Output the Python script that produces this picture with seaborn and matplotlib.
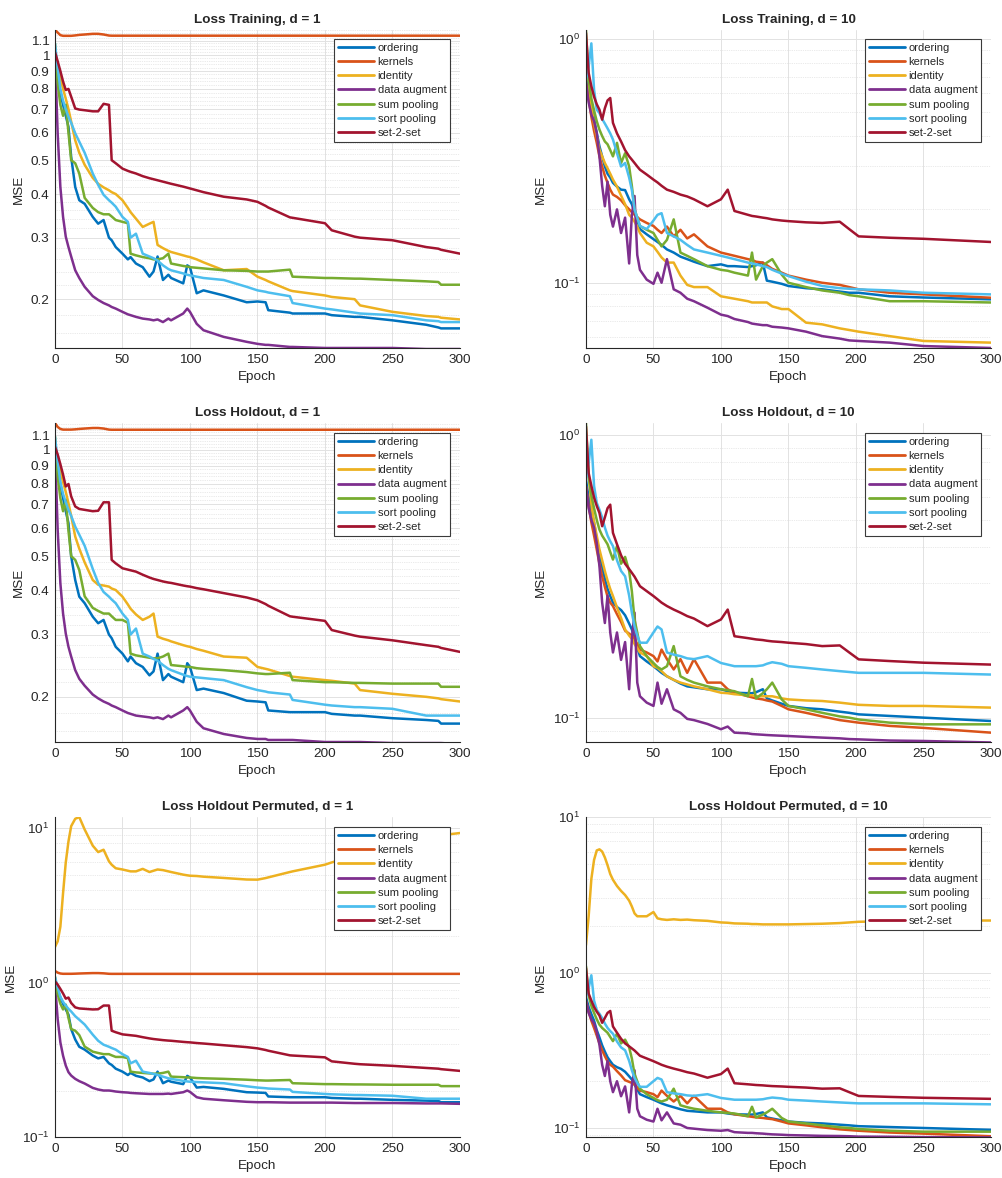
"""
Loss curves (MSE vs. epoch) for seven set-encoding methods,
training / holdout / permuted-holdout, d = 1 and d = 10.
"""

import numpy as np
import pandas as pd
import matplotlib
matplotlib.use("Agg")
import matplotlib.pyplot as plt
from matplotlib.lines import Line2D
from matplotlib.ticker import FixedLocator, FixedFormatter, NullFormatter, LogLocator
import seaborn as sns


# ──────────────────────────────────────────────
# Data
# ──────────────────────────────────────────────

METHODS = ["ordering", "kernels", "identity", "data augment",
           "sum pooling", "sort pooling", "set-2-set"]
COLORS = ["#0072BD", "#D95319", "#EDB120", "#7E2F8E",
          "#77AC30", "#4DBEEE", "#A2142F"]

EPOCHS_D1 = [0, 2, 4, 6, 8, 10, 12, 15, 18, 22, 28, 32, 36, 40, 42, 45, 50, 54, 56, 60,
             65, 70, 73, 76, 80, 84, 86, 95, 98, 100, 105, 110, 125, 142, 150, 156, 158,
             174, 176, 200, 205, 222, 226, 250, 275, 284, 286, 300]

EPOCHS_D10 = [0, 2, 4, 6, 8, 10, 12, 14, 16, 18, 20, 23, 26, 29, 32, 34, 36, 38, 40, 45,
              50, 53, 56, 60, 65, 70, 75, 80, 90, 100, 105, 110, 120, 123, 126, 131, 134,
              138, 145, 150, 163, 175, 188, 195, 202, 225, 250, 300]

# --- Loss Training, d = 1
train_d1_ordering = [1.0, 0.88, 0.78, 0.72, 0.67, 0.623, 0.511, 0.419, 0.384, 0.375, 0.344, 0.329,
                     0.337, 0.30, 0.295, 0.282, 0.27, 0.26, 0.264, 0.253, 0.247, 0.232, 0.24, 0.265,
                     0.227, 0.235, 0.23, 0.222, 0.25, 0.247, 0.208, 0.212, 0.205, 0.196, 0.197, 0.196,
                     0.186, 0.183, 0.182, 0.182, 0.18, 0.178, 0.178, 0.174, 0.169, 0.166, 0.165, 0.165]
train_d1_kernels = [1.18, 1.16, 1.14, 1.135, 1.135, 1.135, 1.135, 1.138, 1.142, 1.145, 1.15, 1.15,
                    1.145, 1.137, 1.136, 1.136, 1.136, 1.136, 1.136, 1.136, 1.136, 1.136, 1.136, 1.136,
                    1.136, 1.136, 1.136, 1.136, 1.136, 1.136, 1.136, 1.136, 1.136, 1.136, 1.136, 1.136,
                    1.136, 1.136, 1.136, 1.136, 1.136, 1.136, 1.136, 1.136, 1.136, 1.136, 1.136, 1.136]
train_d1_identity = [0.99, 0.93, 0.86, 0.80, 0.75, 0.70, 0.645, 0.57, 0.525, 0.485, 0.445, 0.428,
                     0.418, 0.41, 0.405, 0.40, 0.384, 0.365, 0.355, 0.34, 0.322, 0.329, 0.333, 0.286,
                     0.28, 0.275, 0.273, 0.267, 0.265, 0.264, 0.26, 0.255, 0.242, 0.244, 0.232, 0.227,
                     0.225, 0.212, 0.211, 0.205, 0.203, 0.20, 0.192, 0.184, 0.179, 0.178, 0.177, 0.175]
train_d1_augment = [1.01, 0.596, 0.419, 0.344, 0.302, 0.282, 0.265, 0.242, 0.23, 0.217, 0.204, 0.199,
                    0.195, 0.192, 0.19, 0.188, 0.184, 0.181, 0.18, 0.178, 0.176, 0.175, 0.174, 0.175,
                    0.172, 0.176, 0.174, 0.182, 0.188, 0.184, 0.17, 0.163, 0.156, 0.151, 0.149, 0.148,
                    0.148, 0.146, 0.146, 0.145, 0.145, 0.145, 0.145, 0.145, 0.144, 0.144, 0.144, 0.144]
train_d1_sum = [1.08, 0.83, 0.72, 0.67, 0.72, 0.60, 0.50, 0.49, 0.458, 0.39, 0.365, 0.355,
                0.35, 0.35, 0.345, 0.337, 0.333, 0.33, 0.27, 0.267, 0.264, 0.262, 0.26, 0.26,
                0.262, 0.27, 0.253, 0.249, 0.248, 0.247, 0.246, 0.245, 0.242, 0.241, 0.24, 0.24,
                0.24, 0.243, 0.232, 0.23, 0.23, 0.229, 0.229, 0.227, 0.225, 0.224, 0.22, 0.22]
train_d1_sort = [1.08, 0.92, 0.80, 0.74, 0.70, 0.666, 0.64, 0.597, 0.565, 0.525, 0.458, 0.425,
                 0.398, 0.384, 0.378, 0.368, 0.344, 0.333, 0.30, 0.308, 0.27, 0.265, 0.262, 0.258,
                 0.25, 0.244, 0.242, 0.237, 0.235, 0.234, 0.232, 0.23, 0.227, 0.217, 0.212, 0.21,
                 0.209, 0.204, 0.195, 0.188, 0.187, 0.183, 0.182, 0.18, 0.174, 0.173, 0.172, 0.172]
train_d1_set2set = [1.02, 0.96, 0.90, 0.84, 0.794, 0.80, 0.76, 0.703, 0.698, 0.695, 0.69, 0.69,
                    0.725, 0.72, 0.50, 0.49, 0.473, 0.466, 0.463, 0.458, 0.45, 0.444, 0.441, 0.438,
                    0.434, 0.43, 0.428, 0.42, 0.417, 0.415, 0.41, 0.405, 0.393, 0.386, 0.38, 0.37,
                    0.366, 0.343, 0.342, 0.33, 0.315, 0.302, 0.30, 0.295, 0.282, 0.279, 0.277, 0.27]

# --- Loss Holdout, d = 1
holdout_d1_ordering = [1.02, 0.90, 0.80, 0.73, 0.67, 0.62, 0.50, 0.428, 0.384, 0.368, 0.337, 0.323,
                       0.33, 0.30, 0.293, 0.277, 0.265, 0.252, 0.26, 0.249, 0.243, 0.23, 0.236, 0.265,
                       0.223, 0.232, 0.228, 0.22, 0.249, 0.243, 0.209, 0.211, 0.205, 0.195, 0.194, 0.193,
                       0.183, 0.181, 0.181, 0.181, 0.179, 0.177, 0.177, 0.174, 0.172, 0.171, 0.168, 0.168]
holdout_d1_kernels = [1.19, 1.16, 1.145, 1.14, 1.14, 1.14, 1.14, 1.142, 1.145, 1.148, 1.152, 1.152,
                      1.148, 1.14, 1.139, 1.139, 1.139, 1.139, 1.139, 1.139, 1.139, 1.139, 1.139, 1.139,
                      1.139, 1.139, 1.139, 1.139, 1.139, 1.139, 1.139, 1.139, 1.139, 1.139, 1.139, 1.139,
                      1.139, 1.139, 1.139, 1.139, 1.139, 1.139, 1.139, 1.139, 1.139, 1.139, 1.139, 1.139]
holdout_d1_identity = [1.0, 0.93, 0.87, 0.81, 0.76, 0.706, 0.65, 0.568, 0.525, 0.48, 0.428, 0.415,
                       0.413, 0.41, 0.405, 0.401, 0.384, 0.365, 0.355, 0.342, 0.33, 0.337, 0.344, 0.296,
                       0.292, 0.289, 0.287, 0.28, 0.278, 0.277, 0.273, 0.27, 0.26, 0.258, 0.243, 0.24,
                       0.239, 0.229, 0.228, 0.223, 0.222, 0.218, 0.209, 0.204, 0.20, 0.198, 0.197, 0.194]
holdout_d1_augment = [1.02, 0.593, 0.419, 0.344, 0.302, 0.277, 0.26, 0.238, 0.225, 0.215, 0.203, 0.198,
                      0.194, 0.191, 0.189, 0.187, 0.183, 0.18, 0.179, 0.177, 0.176, 0.175, 0.174, 0.175,
                      0.173, 0.177, 0.175, 0.183, 0.187, 0.183, 0.17, 0.163, 0.157, 0.153, 0.152, 0.152,
                      0.151, 0.151, 0.151, 0.149, 0.149, 0.149, 0.149, 0.148, 0.148, 0.148, 0.148, 0.147]
holdout_d1_sum = [1.09, 0.84, 0.73, 0.67, 0.72, 0.59, 0.50, 0.488, 0.457, 0.385, 0.357, 0.35,
                  0.344, 0.344, 0.338, 0.33, 0.33, 0.324, 0.265, 0.262, 0.26, 0.258, 0.257, 0.257,
                  0.26, 0.265, 0.246, 0.244, 0.243, 0.243, 0.241, 0.24, 0.238, 0.235, 0.233, 0.232,
                  0.232, 0.234, 0.223, 0.22, 0.22, 0.219, 0.219, 0.218, 0.218, 0.218, 0.2135, 0.2135]
holdout_d1_sort = [1.09, 0.93, 0.81, 0.75, 0.71, 0.676, 0.65, 0.606, 0.575, 0.535, 0.46, 0.42,
                   0.396, 0.384, 0.377, 0.368, 0.344, 0.33, 0.30, 0.312, 0.265, 0.26, 0.256, 0.253,
                   0.246, 0.24, 0.238, 0.231, 0.229, 0.228, 0.227, 0.226, 0.223, 0.213, 0.209, 0.207,
                   0.206, 0.203, 0.196, 0.19, 0.189, 0.187, 0.187, 0.185, 0.177, 0.177, 0.177, 0.177]
holdout_d1_set2set = [1.02, 0.97, 0.91, 0.85, 0.787, 0.80, 0.738, 0.691, 0.68, 0.676, 0.67, 0.672,
                      0.71, 0.71, 0.488, 0.477, 0.462, 0.458, 0.456, 0.452, 0.443, 0.435, 0.431, 0.428,
                      0.424, 0.421, 0.42, 0.413, 0.411, 0.41, 0.406, 0.403, 0.393, 0.382, 0.375, 0.366,
                      0.362, 0.338, 0.337, 0.328, 0.309, 0.298, 0.296, 0.289, 0.28, 0.277, 0.275, 0.268]

# --- Loss Holdout Permuted, d = 1 (other methods match the holdout curves)
perm_d1_identity = [1.7, 1.85, 2.3, 3.8, 6.0, 8.2, 10.3, 11.5, 11.8, 9.8, 7.7, 7.0,
                    7.25, 6.1, 5.8, 5.5, 5.4, 5.3, 5.25, 5.25, 5.45, 5.2, 5.3, 5.4,
                    5.35, 5.25, 5.2, 5.0, 4.95, 4.92, 4.9, 4.85, 4.76, 4.65, 4.64, 4.75,
                    4.8, 5.2, 5.25, 5.8, 6.0, 6.6, 6.9, 7.8, 8.6, 8.9, 9.0, 9.3]
perm_d1_augment = [1.0, 0.58, 0.41, 0.336, 0.29, 0.263, 0.25, 0.238, 0.23, 0.222, 0.208, 0.203,
                   0.2, 0.2, 0.199, 0.197, 0.195, 0.194, 0.193, 0.192, 0.191, 0.19, 0.19, 0.19,
                   0.19, 0.191, 0.19, 0.195, 0.2, 0.196, 0.181, 0.177, 0.173, 0.169, 0.168, 0.168,
                   0.168, 0.167, 0.167, 0.167, 0.167, 0.166, 0.166, 0.166, 0.165, 0.165, 0.165, 0.164]

# --- Loss Training, d = 10
train_d10_ordering = [0.70, 0.60, 0.53, 0.47, 0.412, 0.363, 0.33, 0.30, 0.28, 0.27, 0.257, 0.248,
                      0.241, 0.24, 0.22, 0.21, 0.195, 0.18, 0.166, 0.158, 0.151, 0.147, 0.143, 0.137,
                      0.133, 0.128, 0.125, 0.122, 0.117, 0.119, 0.117, 0.117, 0.116, 0.117, 0.118, 0.121,
                      0.102, 0.101, 0.099, 0.097, 0.095, 0.094, 0.092, 0.091, 0.091, 0.088, 0.087, 0.0855]
train_d10_kernels = [0.66, 0.57, 0.48, 0.42, 0.375, 0.33, 0.30, 0.275, 0.257, 0.241, 0.23, 0.225,
                     0.218, 0.208, 0.2, 0.195, 0.19, 0.186, 0.182, 0.176, 0.171, 0.165, 0.16, 0.17,
                     0.155, 0.165, 0.152, 0.158, 0.141, 0.133, 0.131, 0.129, 0.125, 0.124, 0.122, 0.121,
                     0.118, 0.114, 0.11, 0.107, 0.103, 0.1, 0.098, 0.096, 0.094, 0.091, 0.0896, 0.0868]
train_d10_identity = [0.90, 0.68, 0.53, 0.45, 0.40, 0.352, 0.33, 0.31, 0.295, 0.28, 0.265, 0.248,
                      0.228, 0.21, 0.19, 0.185, 0.178, 0.17, 0.16, 0.146, 0.141, 0.134, 0.127, 0.121,
                      0.121, 0.107, 0.098, 0.096, 0.096, 0.088, 0.087, 0.086, 0.084, 0.083, 0.083, 0.083,
                      0.083, 0.08, 0.078, 0.078, 0.0686, 0.0675, 0.065, 0.064, 0.063, 0.0604, 0.0577, 0.0568]
train_d10_augment = [0.66, 0.55, 0.49, 0.46, 0.41, 0.33, 0.25, 0.206, 0.26, 0.19, 0.17, 0.2,
                     0.16, 0.185, 0.12, 0.19, 0.227, 0.13, 0.113, 0.103, 0.099, 0.11, 0.1, 0.125,
                     0.094, 0.091, 0.086, 0.084, 0.079, 0.074, 0.073, 0.071, 0.069, 0.068, 0.0676, 0.067,
                     0.067, 0.066, 0.0655, 0.065, 0.063, 0.0604, 0.059, 0.058, 0.0577, 0.0568, 0.055, 0.054]
train_d10_sum = [1.09, 0.68, 0.57, 0.51, 0.46, 0.425, 0.40, 0.38, 0.37, 0.35, 0.33, 0.375,
                 0.31, 0.34, 0.3, 0.25, 0.2, 0.185, 0.171, 0.165, 0.16, 0.15, 0.141, 0.15,
                 0.182, 0.133, 0.129, 0.125, 0.117, 0.113, 0.112, 0.11, 0.107, 0.133, 0.103, 0.117,
                 0.121, 0.125, 0.108, 0.1, 0.096, 0.093, 0.091, 0.089, 0.088, 0.084, 0.084, 0.083]
train_d10_sort = [0.68, 0.77, 0.96, 0.62, 0.513, 0.497, 0.47, 0.45, 0.43, 0.41, 0.387, 0.34,
                  0.3, 0.31, 0.27, 0.24, 0.2, 0.185, 0.171, 0.166, 0.18, 0.19, 0.193, 0.16,
                  0.155, 0.15, 0.143, 0.137, 0.133, 0.129, 0.127, 0.125, 0.121, 0.12, 0.119, 0.117,
                  0.116, 0.113, 0.109, 0.1065, 0.101, 0.097, 0.095, 0.0945, 0.094, 0.093, 0.091, 0.0896]
train_d10_set2set = [1.06, 0.726, 0.64, 0.58, 0.54, 0.513, 0.467, 0.52, 0.56, 0.573, 0.453, 0.41,
                     0.38, 0.35, 0.33, 0.32, 0.31, 0.30, 0.291, 0.278, 0.265, 0.258, 0.25, 0.241,
                     0.236, 0.23, 0.226, 0.22, 0.206, 0.22, 0.241, 0.197, 0.19, 0.188, 0.187, 0.185,
                     0.184, 0.182, 0.18, 0.179, 0.177, 0.176, 0.178, 0.166, 0.155, 0.153, 0.1515, 0.147]

# --- Loss Holdout, d = 10
holdout_d10_ordering = [0.694, 0.60, 0.54, 0.49, 0.426, 0.382, 0.34, 0.31, 0.285, 0.269, 0.255, 0.246,
                        0.24, 0.23, 0.215, 0.205, 0.19, 0.177, 0.165, 0.158, 0.152, 0.148, 0.144, 0.14,
                        0.136, 0.132, 0.129, 0.128, 0.126, 0.126, 0.124, 0.1225, 0.122, 0.122, 0.123, 0.126,
                        0.117, 0.115, 0.112, 0.11, 0.108, 0.107, 0.105, 0.104, 0.1027, 0.1014, 0.1, 0.0973]
holdout_d10_kernels = [0.657, 0.56, 0.49, 0.44, 0.393, 0.35, 0.316, 0.29, 0.268, 0.255, 0.248, 0.232,
                       0.218, 0.203, 0.198, 0.195, 0.19, 0.182, 0.174, 0.17, 0.165, 0.158, 0.174, 0.161,
                       0.148, 0.161, 0.144, 0.161, 0.133, 0.133, 0.126, 0.1225, 0.119, 0.118, 0.117, 0.116,
                       0.115, 0.114, 0.11, 0.107, 0.104, 0.101, 0.098, 0.097, 0.096, 0.0935, 0.092, 0.0885]
holdout_d10_identity = [0.934, 0.72, 0.57, 0.49, 0.44, 0.393, 0.36, 0.33, 0.305, 0.285, 0.269, 0.245,
                        0.225, 0.205, 0.195, 0.19, 0.182, 0.176, 0.17, 0.165, 0.152, 0.15, 0.146, 0.14,
                        0.136, 0.133, 0.131, 0.129, 0.126, 0.1225, 0.122, 0.121, 0.12, 0.12, 0.119, 0.119,
                        0.119, 0.119, 0.117, 0.116, 0.115, 0.1145, 0.113, 0.112, 0.111, 0.11, 0.11, 0.1085]
holdout_d10_augment = [0.657, 0.55, 0.50, 0.47, 0.415, 0.343, 0.255, 0.216, 0.27, 0.2, 0.17, 0.2,
                       0.16, 0.185, 0.126, 0.19, 0.235, 0.133, 0.119, 0.113, 0.11, 0.133, 0.112, 0.126,
                       0.107, 0.104, 0.099, 0.098, 0.095, 0.091, 0.093, 0.0885, 0.088, 0.0875, 0.0873, 0.087,
                       0.0868, 0.0866, 0.0863, 0.0861, 0.0855, 0.085, 0.0845, 0.084, 0.0838, 0.083, 0.0827, 0.0817]
holdout_d10_sum = [1.1, 0.713, 0.61, 0.55, 0.50, 0.462, 0.44, 0.425, 0.41, 0.385, 0.362, 0.404,
                   0.35, 0.37, 0.33, 0.28, 0.222, 0.2, 0.179, 0.165, 0.156, 0.151, 0.148, 0.152,
                   0.179, 0.14, 0.136, 0.133, 0.129, 0.126, 0.125, 0.124, 0.119, 0.137, 0.117, 0.122,
                   0.126, 0.133, 0.116, 0.11, 0.107, 0.104, 0.101, 0.1, 0.0985, 0.096, 0.0947, 0.0947]
holdout_d10_sort = [0.694, 0.794, 0.96, 0.66, 0.574, 0.543, 0.51, 0.47, 0.44, 0.42, 0.404, 0.36,
                    0.33, 0.316, 0.27, 0.235, 0.21, 0.195, 0.184, 0.184, 0.2, 0.21, 0.205, 0.17,
                    0.167, 0.165, 0.162, 0.161, 0.165, 0.156, 0.154, 0.152, 0.152, 0.152, 0.152, 0.153,
                    0.155, 0.157, 0.155, 0.152, 0.15, 0.148, 0.146, 0.145, 0.144, 0.144, 0.144, 0.142]
holdout_d10_set2set = [1.07, 0.732, 0.66, 0.60, 0.56, 0.529, 0.475, 0.51, 0.55, 0.566, 0.45, 0.41,
                       0.375, 0.35, 0.335, 0.325, 0.315, 0.303, 0.2915, 0.28, 0.269, 0.262, 0.255, 0.248,
                       0.241, 0.235, 0.2285, 0.224, 0.2106, 0.2223, 0.241, 0.194, 0.191, 0.19, 0.189, 0.188,
                       0.187, 0.186, 0.185, 0.184, 0.182, 0.179, 0.18, 0.17, 0.1607, 0.1585, 0.1564, 0.154]

# --- Loss Holdout Permuted, d = 10 (other methods match the holdout curves)
perm_d10_identity = [1.5, 2.3, 4.0, 5.3, 6.1, 6.2, 6.0, 5.5, 4.9, 4.3, 3.95, 3.6,
                     3.35, 3.15, 2.9, 2.66, 2.4, 2.3, 2.3, 2.3, 2.45, 2.23, 2.2, 2.18,
                     2.2, 2.18, 2.19, 2.17, 2.15, 2.1, 2.09, 2.07, 2.06, 2.05, 2.05, 2.04,
                     2.04, 2.04, 2.04, 2.04, 2.05, 2.06, 2.08, 2.1, 2.12, 2.14, 2.16, 2.16]
perm_d10_augment = [0.657, 0.55, 0.50, 0.47, 0.415, 0.343, 0.255, 0.216, 0.27, 0.2, 0.17, 0.2,
                    0.16, 0.185, 0.126, 0.19, 0.235, 0.133, 0.119, 0.113, 0.11, 0.133, 0.112, 0.126,
                    0.107, 0.105, 0.1, 0.099, 0.097, 0.096, 0.097, 0.094, 0.093, 0.093, 0.0925, 0.092,
                    0.0915, 0.091, 0.0905, 0.09, 0.0895, 0.089, 0.0888, 0.0885, 0.088, 0.0878, 0.0873, 0.087]

D1_YTICKS = [0.2, 0.3, 0.4, 0.5, 0.6, 0.7, 0.8, 0.9, 1.0, 1.1]
D1_YTICKLABELS = ["0.2", "0.3", "0.4", "0.5", "0.6", "0.7", "0.8", "0.9", "1", "1.1"]


# ──────────────────────────────────────────────
# Helpers
# ──────────────────────────────────────────────

def to_long(epochs, curves):
    """Stack per-method curves into a long DataFrame for seaborn."""
    frames = [pd.DataFrame({"Epoch": epochs, "MSE": vals, "method": name})
              for name, vals in zip(METHODS, curves)]
    return pd.concat(frames, ignore_index=True)


def style_axes(ax, title, ylim, decimal_ticks, legend_top):
    ax.set_yscale("log")
    ax.set_xlim(0, 300)
    ax.set_ylim(*ylim)
    ax.set_xticks(range(0, 301, 50))

    if decimal_ticks:
        ax.yaxis.set_major_locator(FixedLocator(D1_YTICKS))
        ax.yaxis.set_major_formatter(FixedFormatter(D1_YTICKLABELS))
        ax.yaxis.set_minor_locator(FixedLocator(np.arange(0.14, 1.19, 0.02)))
    else:
        ax.yaxis.set_major_locator(LogLocator(base=10, numticks=10))
        ax.yaxis.set_minor_locator(LogLocator(base=10, subs=np.arange(2, 10), numticks=20))
    ax.yaxis.set_minor_formatter(NullFormatter())

    ax.set_axisbelow(True)
    ax.grid(which="major", color="#e2e2e2", linewidth=0.7, linestyle="-")
    ax.grid(which="minor", axis="y", color="#d6d6d6", linewidth=0.5, linestyle=(0, (1, 1.6)))
    ax.grid(which="minor", axis="x", visible=False)

    for side in ("top", "right"):
        ax.spines[side].set_visible(False)
    for side in ("left", "bottom"):
        ax.spines[side].set_color("#262626")
        ax.spines[side].set_linewidth(0.8)
    ax.tick_params(which="major", direction="in", length=3, width=0.6,
                   color="#262626", labelcolor="#262626", labelsize=9.7, pad=4)
    ax.tick_params(which="minor", direction="in", length=1.5, width=0.5, color="#262626")

    ax.set_title(title, fontsize=9.7, fontweight="bold", pad=5)
    ax.set_xlabel("Epoch", fontsize=9.7, color="#262626")
    ax.set_ylabel("MSE", fontsize=9.7, color="#262626", labelpad=4)

    handles = [Line2D([0], [0], color=c, lw=2.0) for c in COLORS]
    leg = ax.legend(handles, METHODS, loc="upper right", bbox_to_anchor=(0.976, legend_top),
                    fontsize=8, frameon=True, fancybox=False, framealpha=1,
                    edgecolor="#3a3a3a", borderpad=0.35, labelspacing=0.38,
                    handlelength=3.3, handletextpad=0.3, borderaxespad=0)
    leg.get_frame().set_linewidth(0.8)


# ──────────────────────────────────────────────
# Figure
# ──────────────────────────────────────────────

sns.set_theme(style="white")
plt.rcParams["font.family"] = ["Liberation Sans", "DejaVu Sans"]
plt.rcParams["mathtext.fontset"] = "custom"
plt.rcParams["mathtext.rm"] = "Liberation Sans"
plt.rcParams["mathtext.it"] = "Liberation Sans:italic"
plt.rcParams["mathtext.bf"] = "Liberation Sans:bold"

fig = plt.figure(figsize=(10.03, 11.78), dpi=100)

col_left = [0.0548, 0.5842]
row_bottom = [0.7046, 0.3701, 0.0348]
row_height = [0.270, 0.2708, 0.2716]
width = 0.4038

panels = [
    (0, 0, "Loss Training, d = 1", EPOCHS_D1,
     [train_d1_ordering, train_d1_kernels, train_d1_identity, train_d1_augment,
      train_d1_sum, train_d1_sort, train_d1_set2set], (0.145, 1.18), True, 0.972),
    (0, 1, "Loss Training, d = 10", EPOCHS_D10,
     [train_d10_ordering, train_d10_kernels, train_d10_identity, train_d10_augment,
      train_d10_sum, train_d10_sort, train_d10_set2set], (0.054, 1.09), False, 0.972),
    (1, 0, "Loss Holdout, d = 1", EPOCHS_D1,
     [holdout_d1_ordering, holdout_d1_kernels, holdout_d1_identity, holdout_d1_augment,
      holdout_d1_sum, holdout_d1_sort, holdout_d1_set2set], (0.149, 1.19), True, 0.969),
    (1, 1, "Loss Holdout, d = 10", EPOCHS_D10,
     [holdout_d10_ordering, holdout_d10_kernels, holdout_d10_identity, holdout_d10_augment,
      holdout_d10_sum, holdout_d10_sort, holdout_d10_set2set], (0.082, 1.10), False, 0.969),
    (2, 0, "Loss Holdout Permuted, d = 1", EPOCHS_D1,
     [holdout_d1_ordering, holdout_d1_kernels, perm_d1_identity, perm_d1_augment,
      holdout_d1_sum, holdout_d1_sort, holdout_d1_set2set], (0.1, 11.8), False, 0.969),
    (2, 1, "Loss Holdout Permuted, d = 10", EPOCHS_D10,
     [holdout_d10_ordering, holdout_d10_kernels, perm_d10_identity, perm_d10_augment,
      holdout_d10_sum, holdout_d10_sort, holdout_d10_set2set], (0.0875, 10.0), False, 0.969),
]

for row, col, title, epochs, curves, ylim, decimal_ticks, legend_top in panels:
    ax = fig.add_axes([col_left[col], row_bottom[row], width, row_height[row]])
    df = to_long(epochs, curves)
    sns.lineplot(data=df, x="Epoch", y="MSE", hue="method", hue_order=METHODS,
                 palette=COLORS, linewidth=1.8, estimator=None, legend=False, ax=ax)
    style_axes(ax, title, ylim, decimal_ticks, legend_top)

fig.savefig("out.png", dpi=100, facecolor="white")
